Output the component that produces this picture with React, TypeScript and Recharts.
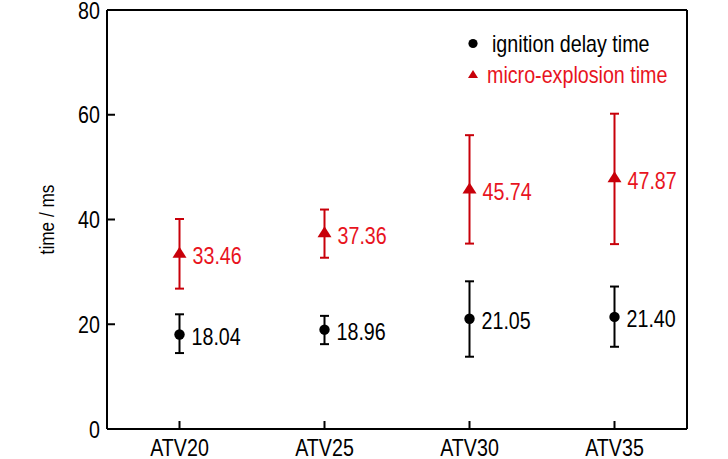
import React from "react";
import {
  ScatterChart,
  Scatter,
  XAxis,
  YAxis,
  ErrorBar,
  ReferenceLine,
  Legend,
  Label,
} from "recharts";

const categories = ["ATV20", "ATV25", "ATV30", "ATV35"];
const ignition = [18.04, 18.96, 21.05, 21.4];
const ignitionHigh = [21.9, 21.6, 28.2, 27.2];
const ignitionLow = [14.5, 16.2, 13.8, 15.7];
const micro = [33.46, 37.36, 45.74, 47.87];
const microHigh = [40.1, 41.9, 56.1, 60.2];
const microLow = [26.8, 32.7, 35.4, 35.3];
const yTicks = [0, 20, 40, 60, 80];

// Liberation Sans squeezed to Arial Narrow proportions
const FONT = "'Liberation Sans', Arial, sans-serif";
const NARROW = 0.82;
const RED = "#c8000a";
const RED_TEXT = "#e8141e";

const build = (vals: number[], hi: number[], lo: number[]) =>
  vals.map((v, i) => ({ x: i, y: v, err: [v - lo[i], hi[i] - v] }));

const ignitionData = build(ignition, ignitionHigh, ignitionLow);
const microData = build(micro, microHigh, microLow);

const NarrowText = ({ x, y, anchor = "start", size = 24, fill = "#000", rotate = 0, children }: any) => (
  <text
    transform={`translate(${x} ${y}) rotate(${rotate}) scale(${NARROW} 1)`}
    textAnchor={anchor}
    fontSize={size}
    fontFamily={FONT}
    fill={fill}
  >
    {children}
  </text>
);

const CircleShape = (p: any) => (
  <g>
    <circle cx={p.cx} cy={p.cy} r={5.2} fill="#000" />
    <NarrowText x={p.cx + 12} y={p.cy + 10.5}>
      {p.payload.y.toFixed(2)}
    </NarrowText>
  </g>
);

const TriangleShape = (p: any) => (
  <g>
    <polygon
      points={`${p.cx},${p.cy - 7} ${p.cx - 7},${p.cy + 4} ${p.cx + 7},${p.cy + 4}`}
      fill={RED}
    />
    <NarrowText x={p.cx + 13} y={p.cy + 10.5} fill={RED_TEXT}>
      {p.payload.y.toFixed(2)}
    </NarrowText>
  </g>
);

const XTick = (p: any) => (
  <NarrowText x={p.x} y={p.y + 15} anchor="middle">
    {categories[p.payload.value]}
  </NarrowText>
);

const YTick = (p: any) => (
  <NarrowText x={p.x} y={p.y + 8.7} anchor="end">
    {p.payload.value}
  </NarrowText>
);

const renderLegend = (props: any) => (
  <div style={{ fontFamily: FONT, fontSize: 24 }}>
    {props.payload.map((entry: any, i: number) => (
      <div key={i} style={{ height: 31, display: "flex", alignItems: "center", whiteSpace: "nowrap" }}>
        <svg width={25} height={31}>
          {i === 0 ? (
            <circle cx={6} cy={15.5} r={4.6} fill="#000" />
          ) : (
            <polygon points="6,11 1,19 11,19" fill={RED} />
          )}
        </svg>
        <span
          style={{
            color: i === 0 ? "#000" : RED_TEXT,
            display: "inline-block",
            transform: `scaleX(${NARROW})`,
            transformOrigin: "left center",
          }}
        >
          {entry.value}
        </span>
      </div>
    ))}
  </div>
);

const YLabel = (props: any) => {
  const vb = props.viewBox;
  return (
    <NarrowText x={vb.x + 7} y={vb.y + vb.height / 2} anchor="middle" size={21} rotate={-90}>
      time / ms
    </NarrowText>
  );
};

export default function App() {
  return (
    <div style={{ position: "absolute", left: 0, top: 0, background: "#fff" }}>
      <ScatterChart
        width={728}
        height={459}
        margin={{ top: 10, right: 41, left: 47, bottom: 0 }}
      >
        <XAxis
          type="number"
          dataKey="x"
          domain={[-0.5, 3.5]}
          ticks={[0, 1, 2, 3]}
          height={30}
          axisLine={{ stroke: "#000", strokeWidth: 2 }}
          tickLine={{ stroke: "#000", strokeWidth: 2 }}
          tickSize={-8}
          tickMargin={20}
          tick={XTick}
        />
        <YAxis
          type="number"
          dataKey="y"
          domain={[0, 80]}
          ticks={yTicks}
          width={60}
          axisLine={{ stroke: "#000", strokeWidth: 2 }}
          tickLine={{ stroke: "#000", strokeWidth: 2 }}
          tickSize={-8}
          tickMargin={15}
          tick={YTick}
        >
          <Label content={YLabel} />
        </YAxis>
        <ReferenceLine y={80} stroke="#000" strokeWidth={2} />
        <ReferenceLine x={3.5} stroke="#000" strokeWidth={2} />
        <Legend
          layout="vertical"
          align="center"
          verticalAlign="middle"
          content={renderLegend}
          wrapperStyle={{ left: 467, top: 28, width: 240 }}
        />
        <Scatter
          name="ignition delay time"
          data={ignitionData}
          fill="#000"
          shape={CircleShape}
          isAnimationActive={false}
        >
          <ErrorBar dataKey="err" direction="y" width={4.5} stroke="#000" strokeWidth={2} />
        </Scatter>
        <Scatter
          name="micro-explosion time"
          data={microData}
          fill={RED}
          shape={TriangleShape}
          isAnimationActive={false}
        >
          <ErrorBar dataKey="err" direction="y" width={4.5} stroke={RED} strokeWidth={2} />
        </Scatter>
      </ScatterChart>
    </div>
  );
}
